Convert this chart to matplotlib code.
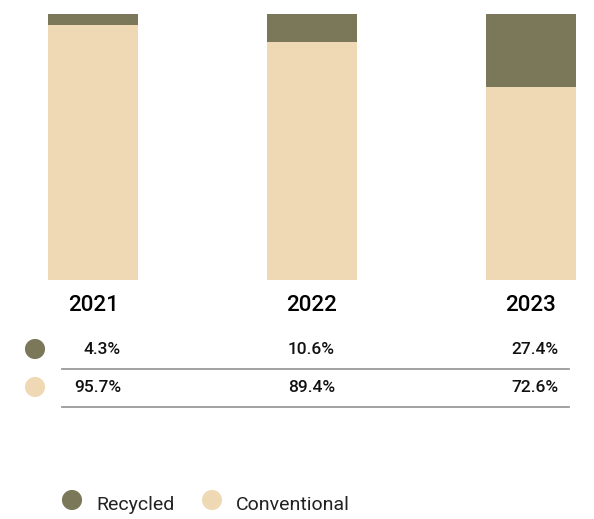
import matplotlib.pyplot as plt
import numpy as np

plt.rcParams['font.family'] = ['Roboto', 'DejaVu Sans']

years = ['2021', '2022', '2023']
recycled = [4.3, 10.6, 27.4]
conventional = [95.7, 89.4, 72.6]
series_names = ['Recycled', 'Conventional']

c_rec = '#7b7759'
c_conv = '#efd9b5'
W, H = 594, 519

fig = plt.figure(figsize=(W / 100, H / 100), dpi=100)

# stacked bars
ax = fig.add_axes([48 / W, 1 - 280 / H, 528 / W, 266 / H])
x = np.arange(len(years))
bw = 0.412
ax.bar(x, conventional, width=bw, color=c_conv)
ax.bar(x, recycled, bottom=conventional, width=bw, color=c_rec)
ax.set_xlim(-bw / 2, 2 + bw / 2)
ax.set_ylim(0, 100)
ax.set_yticks([])
ax.set_xticks(x, years)
ax.tick_params(axis='x', length=0, pad=11, labelsize=16)
for lbl in ax.get_xticklabels():
    lbl.set_fontweight('medium')
for s in ax.spines.values():
    s.set_visible(False)

# value table and legend drawn in pixel space
ov = fig.add_axes([0, 0, 1, 1])
ov.set_xlim(0, W)
ov.set_ylim(H, 0)
ov.axis('off')

row_y = [349, 387]
line_y = [369, 407]
col_right = [121, 335, 559]
for yy, vals, col in zip(row_y, [recycled, conventional], [c_rec, c_conv]):
    ov.scatter([35], [yy], s=210, color=col, edgecolors='none')
    for xr, v in zip(col_right, vals):
        ov.text(xr, yy, f'{v:.1f}%', ha='right', va='center', fontsize=12.5,
                fontweight='medium', color='#111111')
for ly in line_y:
    ov.plot([62, 569], [ly, ly], color='#9a9a9a', lw=1.3)

leg_x = [72, 212]
for lx, name, col in zip(leg_x, series_names, [c_rec, c_conv]):
    ov.scatter([lx], [500], s=210, color=col, edgecolors='none')
    ov.text(lx + 24, 505, name, ha='left', va='center', fontsize=14, color='#222222')

fig.savefig('out.png', dpi=100)
